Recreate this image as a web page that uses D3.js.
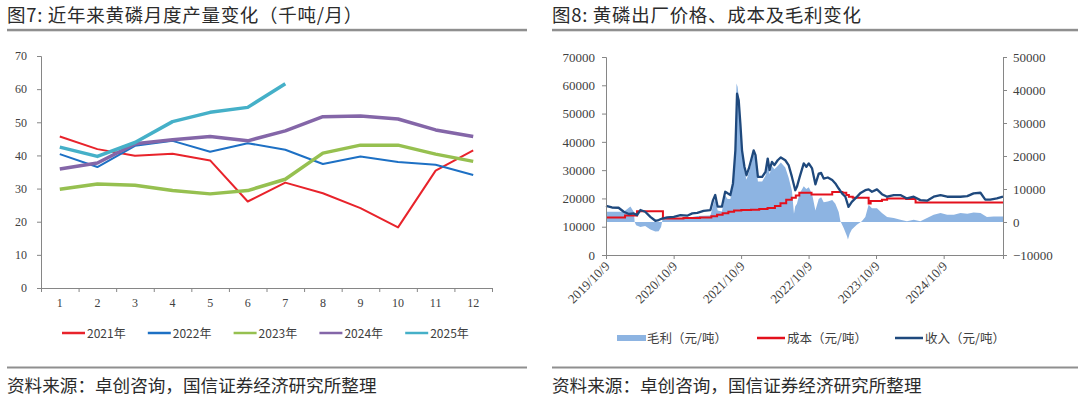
<!DOCTYPE html>
<html>
<head>
<meta charset="utf-8">
<script src="https://cdn.jsdelivr.net/npm/d3@7"></script>
<style>
  body { margin: 0; background: #fff; }
  svg { display: block; }
  .cn { font-family: "Noto Sans CJK SC", sans-serif; }
  .num { font-family: "Liberation Serif", "Times New Roman", serif; font-size: 12px; fill: #404040; }
  .num13 { font-family: "Liberation Serif", "Times New Roman", serif; font-size: 13px; fill: #404040; }
  .axis path, .axis line { stroke: #868686; }
</style>
</head>
<body>
<svg id="svg" width="1080" height="397"></svg>
<script>
// ---- left chart: monthly output (kt / month)
const months = ["1", "2", "3", "4", "5", "6", "7", "8", "9", "10", "11", "12"];
const prod2021 = [45.7, 41.9, 39.9, 40.5, 38.5, 26.1, 31.8, 28.6, 24.1, 18.3, 35.4, 41.5];
const prod2022 = [40.4, 36.5, 42.9, 44.4, 41.1, 43.7, 41.7, 37.4, 39.7, 38.0, 37.2, 34.1];
const prod2023 = [29.8, 31.4, 31.0, 29.4, 28.4, 29.4, 32.8, 40.7, 43.1, 43.1, 40.4, 38.2];
const prod2024 = [35.9, 37.7, 43.5, 44.7, 45.7, 44.4, 47.4, 51.7, 51.9, 51.0, 47.7, 45.7];
const prod2025 = [42.5, 39.7, 43.9, 50.2, 53.0, 54.5, 61.6];
const prodYTicks = [0, 10, 20, 30, 40, 50, 60, 70];

// ---- right chart: price, cost, margin (yuan / t)
const revenue = [
  ["2019-10-09", 17400], ["2019-11-10", 16800], ["2019-12-16", 16700], ["2020-01-13", 15300],
  ["2020-02-10", 14500], ["2020-03-08", 14700], ["2020-03-25", 14100], ["2020-04-12", 15900],
  ["2020-05-08", 15300], ["2020-06-05", 13500], ["2020-07-02", 12100], ["2020-07-20", 12350],
  ["2020-08-08", 12900], ["2020-09-04", 13300], ["2020-10-10", 13500], ["2020-11-15", 14100],
  ["2020-12-21", 13900], ["2021-01-18", 14700], ["2021-02-14", 14900], ["2021-03-20", 15600],
  ["2021-04-26", 15900], ["2021-05-10", 19400], ["2021-05-22", 21200], ["2021-06-04", 17100],
  ["2021-06-27", 17100], ["2021-07-15", 22350], ["2021-07-28", 21800], ["2021-08-12", 21200],
  ["2021-08-26", 25300], ["2021-09-08", 37000], ["2021-09-17", 57000], ["2021-09-26", 54700],
  ["2021-10-05", 46500], ["2021-10-14", 37000], ["2021-10-27", 31200], ["2021-11-07", 28200],
  ["2021-11-20", 30600], ["2021-12-02", 33500], ["2021-12-16", 37000], ["2021-12-26", 35300],
  ["2022-01-08", 27600], ["2022-01-31", 27600], ["2022-02-18", 29400], ["2022-03-02", 34100],
  ["2022-03-12", 30000], ["2022-03-25", 32900], ["2022-04-07", 31800], ["2022-04-25", 33500],
  ["2022-05-12", 34500], ["2022-06-05", 33500], ["2022-06-23", 31800], ["2022-07-11", 27600],
  ["2022-07-29", 22900], ["2022-08-07", 24100], ["2022-08-22", 27600], ["2022-09-13", 32400],
  ["2022-09-27", 31200], ["2022-10-10", 32400], ["2022-10-28", 30600], ["2022-11-15", 25000],
  ["2022-12-03", 28800], ["2022-12-16", 29000], ["2022-12-30", 27000], ["2023-01-21", 27400],
  ["2023-02-14", 26500], ["2023-03-03", 25300], ["2023-03-21", 23500], ["2023-04-08", 21800],
  ["2023-04-26", 20600], ["2023-05-13", 17000], ["2023-05-31", 18800], ["2023-06-19", 20000],
  ["2023-07-15", 21800], ["2023-08-12", 22900], ["2023-08-30", 23200], ["2023-09-17", 22350],
  ["2023-10-14", 23200], ["2023-11-10", 21500], ["2023-12-08", 20600], ["2024-01-13", 21200],
  ["2024-02-18", 21200], ["2024-03-24", 20000], ["2024-04-30", 20600], ["2024-06-05", 19400],
  ["2024-07-11", 19200], ["2024-08-16", 20600], ["2024-09-22", 21200], ["2024-10-28", 20600],
  ["2024-12-03", 20600], ["2025-01-08", 20600], ["2025-02-14", 20800], ["2025-03-20", 21800],
  ["2025-04-26", 22000], ["2025-05-22", 19600], ["2025-06-18", 19600], ["2025-07-24", 20000],
  ["2025-08-26", 20600]
];
const cost = [
  ["2019-10-09", 13300], ["2020-01-20", 14000], ["2020-03-25", 15500], ["2020-08-12", 12900],
  ["2020-12-01", 13100], ["2021-03-01", 13300], ["2021-05-01", 13700], ["2021-06-01", 14200],
  ["2021-07-01", 14800], ["2021-08-01", 15300], ["2021-09-01", 15700], ["2021-10-10", 15900],
  ["2021-12-01", 16000], ["2022-01-15", 16300], ["2022-03-01", 16600], ["2022-04-10", 17300],
  ["2022-05-10", 18300], ["2022-06-10", 19500], ["2022-07-10", 20200], ["2022-08-01", 21000],
  ["2022-08-20", 22000], ["2022-10-25", 21400], ["2023-02-14", 22300], ["2023-04-10", 22000],
  ["2023-05-01", 21200], ["2023-05-15", 20600], ["2023-06-05", 20200], ["2023-08-30", 18200],
  ["2023-09-10", 19100], ["2023-11-10", 19500], ["2023-12-08", 20000], ["2024-03-20", 19800],
  ["2024-05-10", 18600], ["2025-08-26", 18600]
];
const margin = [
  ["2019-10-09", 3100], ["2020-01-13", 3100], ["2020-02-18", 4700], ["2020-03-08", 3000],
  ["2020-03-12", 0], ["2020-03-20", -1000], ["2020-04-12", -1500], ["2020-05-08", -1200],
  ["2020-06-05", -2300], ["2020-07-02", -2900], ["2020-07-20", -2800], ["2020-08-02", -1500],
  ["2020-08-10", 800], ["2020-10-10", 900], ["2020-12-21", 1200], ["2021-02-14", 1800],
  ["2021-04-26", 2000], ["2021-05-10", 5000], ["2021-05-22", 7200], ["2021-06-04", 3500],
  ["2021-06-27", 3200], ["2021-07-15", 8000], ["2021-07-28", 7000], ["2021-08-12", 7000],
  ["2021-08-26", 11000], ["2021-09-08", 22000], ["2021-09-14", 42000], ["2021-09-20", 41000],
  ["2021-09-26", 38000], ["2021-10-05", 30000], ["2021-10-14", 21000], ["2021-10-27", 15500],
  ["2021-11-07", 12800], ["2021-11-20", 15000], ["2021-12-02", 17500], ["2021-12-16", 21000],
  ["2021-12-26", 19000], ["2022-01-08", 12300], ["2022-01-31", 12300], ["2022-02-18", 14000],
  ["2022-03-02", 18300], ["2022-03-12", 14500], ["2022-03-25", 17000], ["2022-04-07", 16000],
  ["2022-04-25", 17000], ["2022-05-12", 18000], ["2022-06-05", 16500], ["2022-06-23", 13500],
  ["2022-07-11", 9500], ["2022-07-22", 2500], ["2022-07-29", 4800], ["2022-08-07", 5500],
  ["2022-08-22", 8750], ["2022-09-13", 10800], ["2022-09-27", 10000], ["2022-10-10", 10500],
  ["2022-10-28", 8500], ["2022-11-15", 3500], ["2022-12-03", 7000], ["2022-12-16", 7500],
  ["2022-12-30", 6000], ["2023-01-21", 6200], ["2023-02-14", 6700], ["2023-03-03", 5500],
  ["2023-03-21", 3000], ["2023-03-30", 300], ["2023-04-17", -1800], ["2023-05-05", -4300],
  ["2023-05-10", -5300], ["2023-05-20", -3500], ["2023-05-31", -2300], ["2023-06-27", -800],
  ["2023-07-24", 200], ["2023-08-12", 1500], ["2023-08-30", 5200], ["2023-09-17", 4200],
  ["2023-10-14", 4200], ["2023-11-10", 2700], ["2023-12-08", 1500], ["2024-01-13", 1200],
  ["2024-02-18", 700], ["2024-03-24", 200], ["2024-04-30", 700], ["2024-06-05", 200],
  ["2024-07-11", 1200], ["2024-08-16", 2200], ["2024-09-22", 2700], ["2024-10-28", 2200],
  ["2024-12-03", 2200], ["2025-01-08", 2700], ["2025-02-14", 2500], ["2025-03-20", 2900],
  ["2025-04-26", 2700], ["2025-05-31", 1500], ["2025-07-06", 1700], ["2025-08-26", 1700]
];
const dateTicks = ["2019-10-09", "2020-10-09", "2021-10-09", "2022-10-09", "2023-10-09", "2024-10-09"];
const leftYTicks = [0, 10000, 20000, 30000, 40000, 50000, 60000, 70000];
const rightYTicks = [-10000, 0, 10000, 20000, 30000, 40000, 50000];

const svg = d3.select("#svg");
const parse = d3.timeParse("%Y-%m-%d");

// ---- headers / footers
function frame(x0, x1, title) {
  svg.append("text").attr("class", "cn").attr("x", x0).attr("y", 22)
    .style("font-size", "18.5px").style("letter-spacing", "0.7px")
    .style("fill", "#2b2b2b").text(title);
  svg.append("rect").attr("x", x0).attr("y", 28.8).attr("width", x1 - x0).attr("height", 2.5).attr("fill", "#8f8f8f");
  svg.append("rect").attr("x", x0).attr("y", 366.5).attr("width", x1 - x0).attr("height", 2).attr("fill", "#8f8f8f");
  svg.append("text").attr("class", "cn").attr("x", x0).attr("y", 392)
    .style("font-size", "17.6px").style("fill", "#2b2b2b").text("资料来源：卓创咨询，国信证券经济研究所整理");
}
frame(7, 527, "图7: 近年来黄磷月度产量变化（千吨/月）");
frame(552, 1078, "图8: 黄磷出厂价格、成本及毛利变化");

// ---- left chart
const L = { left: 41, right: 492, top: 56, bottom: 288 };
const xBand = d3.scaleBand().domain(months).range([L.left, L.right]).padding(0);
const xEdge = d3.scaleLinear().domain([0, 12]).range([L.left, L.right]);
const yProd = d3.scaleLinear().domain([0, 70]).range([L.bottom, L.top]);

svg.append("g").attr("class", "axis").attr("transform", `translate(${L.left},0)`)
  .call(d3.axisLeft(yProd).tickValues(prodYTicks).tickSize(4).tickPadding(10))
  .call(g => g.selectAll("text").attr("class", "num"));
svg.append("g").attr("class", "axis").attr("transform", `translate(0,${L.bottom})`)
  .call(d3.axisBottom(xEdge).tickValues(d3.range(0, 13)).tickSize(4).tickFormat(""));
svg.append("g").attr("transform", `translate(0,${L.bottom})`)
  .call(d3.axisBottom(xBand).tickSize(0).tickPadding(10))
  .call(g => g.select(".domain").remove())
  .call(g => g.selectAll("text").attr("class", "num"));

const prodSeries = [
  { name: "2021年", values: prod2021, color: "#e8232b", width: 2 },
  { name: "2022年", values: prod2022, color: "#1d70c4", width: 2 },
  { name: "2023年", values: prod2023, color: "#96c050", width: 3.5 },
  { name: "2024年", values: prod2024, color: "#8466a8", width: 3.5 },
  { name: "2025年", values: prod2025, color: "#45b0c8", width: 3.5 }
];
const prodLine = d3.line()
  .x((d, i) => xBand(months[i]) + xBand.bandwidth() / 2)
  .y(d => yProd(d));
prodSeries.forEach(s => {
  svg.append("path").attr("d", prodLine(s.values)).attr("fill", "none")
    .attr("stroke", s.color).attr("stroke-width", s.width).attr("stroke-linejoin", "round");
});

const legL = svg.append("g").attr("transform", "translate(62,333)");
prodSeries.forEach((s, i) => {
  const g = legL.append("g").attr("transform", `translate(${i * 85.8},0)`);
  g.append("line").attr("x1", 0).attr("x2", 23).attr("stroke", s.color).attr("stroke-width", 2.5);
  g.append("text").attr("class", "cn").attr("x", 25).attr("y", 4.5)
    .style("font-size", "12px").style("fill", "#404040").text(s.name);
});

// ---- right chart
const R = { left: 606, right: 1003, top: 57, bottom: 255 };
const xTime = d3.scaleTime().domain([parse("2019-10-09"), parse("2025-08-26")]).range([R.left, R.right]);
const yLeft = d3.scaleLinear().domain([0, 70000]).range([R.bottom, R.top]);
const yRight = d3.scaleLinear().domain([-10000, 50000]).range([R.bottom, R.top]);

const area = d3.area().x(d => xTime(parse(d[0]))).y0(yRight(0)).y1(d => yRight(d[1]));
svg.append("path").attr("d", area(margin)).attr("fill", "#8db4e2");

const costLine = d3.line().curve(d3.curveStepAfter).x(d => xTime(parse(d[0]))).y(d => yLeft(d[1]));
svg.append("path").attr("d", costLine(cost)).attr("fill", "none").attr("stroke", "#e3101c").attr("stroke-width", 2);

const revLine = d3.line().x(d => xTime(parse(d[0]))).y(d => yLeft(d[1]));
svg.append("path").attr("d", revLine(revenue)).attr("fill", "none").attr("stroke", "#1f497d")
  .attr("stroke-width", 2.3).attr("stroke-linejoin", "round");

svg.append("g").attr("class", "axis").attr("transform", `translate(${R.left},0)`)
  .call(d3.axisLeft(yLeft).tickValues(leftYTicks).tickSize(4).tickPadding(7).tickFormat(d3.format("d")))
  .call(g => g.selectAll("text").attr("class", "num13"));
svg.append("g").attr("class", "axis").attr("transform", `translate(${R.right},0)`)
  .call(d3.axisRight(yRight).tickValues(rightYTicks).tickSize(4).tickPadding(6).tickFormat(d3.format("d")))
  .call(g => g.selectAll("text").attr("class", "num13"));
svg.append("g").attr("class", "axis").attr("transform", `translate(0,${R.bottom})`)
  .call(d3.axisBottom(xTime).tickValues(dateTicks.map(parse)).tickSize(4)
    .tickFormat(d3.timeFormat("%Y/%-m/%-d")))
  .call(g => g.selectAll("text").attr("class", "num13")
    .attr("text-anchor", "end").attr("dy", 0).attr("y", 0)
    .attr("transform", "translate(4,12) rotate(-45)"));

const legR = [
  { name: "毛利（元/吨）", type: "rect", color: "#8db4e2", x: 617 },
  { name: "成本（元/吨）", type: "line", color: "#e3101c", x: 757 },
  { name: "收入（元/吨）", type: "line", color: "#1f497d", x: 895 }
];
legR.forEach(s => {
  const g = svg.append("g").attr("transform", `translate(${s.x},338)`);
  if (s.type === "rect") {
    g.append("rect").attr("x", 0).attr("y", -3).attr("width", 29).attr("height", 6).attr("fill", s.color);
  } else {
    g.append("line").attr("x1", 0).attr("x2", 28).attr("stroke", s.color).attr("stroke-width", 2.5);
  }
  g.append("text").attr("class", "cn").attr("x", 30).attr("y", 4.5)
    .style("font-size", "12.5px").style("fill", "#404040").text(s.name);
});
</script>
</body>
</html>
